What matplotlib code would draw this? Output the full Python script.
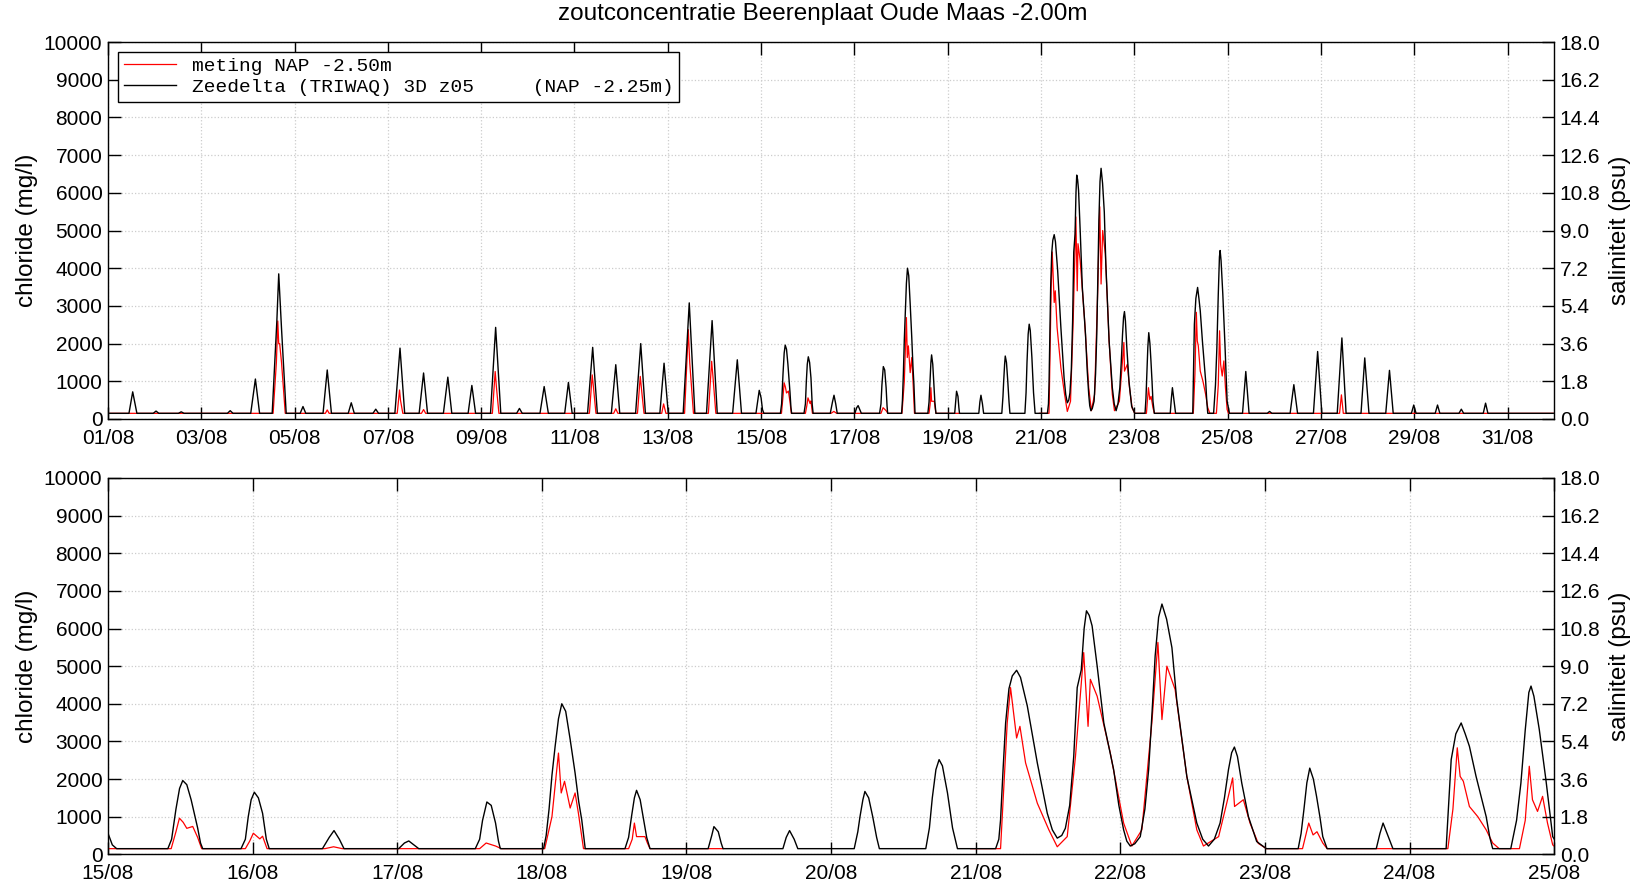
import matplotlib.pyplot as plt
import numpy as np
from matplotlib.ticker import FuncFormatter

plt.rcParams['font.family'] = ['Liberation Sans', 'DejaVu Sans']

# time in days of August (1.0 = 01/08 00:00), chloride in mg/l
# model (Zeedelta TRIWAQ) vertices
model_day = [
    1.0, 1.45, 1.53, 1.62, 1.97, 2.03, 2.09, 2.51, 2.57, 2.63, 3.56, 3.62, 3.68,
    4.06, 4.16, 4.25, 4.52, 4.62, 4.66, 4.72, 4.82, 5.12, 5.18, 5.24,
    5.61, 5.70, 5.79, 6.15, 6.215, 6.28, 6.68, 6.74, 6.80,
    7.15, 7.26, 7.36, 7.67, 7.765, 7.85, 8.19, 8.285, 8.37, 8.72, 8.80, 8.88,
    9.20, 9.31, 9.42, 9.76, 9.82, 9.88, 10.26, 10.35, 10.44, 10.79, 10.87, 10.95,
    11.28, 11.39, 11.49, 11.79, 11.885, 11.97, 12.31, 12.42, 12.52, 12.83, 12.92, 13.01,
    13.33, 13.46, 13.58, 13.83, 13.95, 14.06, 14.39, 14.49, 14.58,
    14.89, 14.96, 15.0, 15.03, 15.06,
    15.414, 15.44, 15.47, 15.495, 15.517, 15.545, 15.575, 15.62, 15.64, 15.655,
    15.92, 15.95, 15.97, 15.99, 16.012, 16.04, 16.069, 16.095, 16.115,
    16.483, 16.53, 16.563, 16.60, 16.632, 17.01, 17.05, 17.08, 17.115, 17.149,
    17.54, 17.57, 17.59, 17.62, 17.65, 17.68, 17.70, 17.713,
    18.012, 18.03, 18.05, 18.07, 18.092, 18.115, 18.138, 18.165, 18.196, 18.23,
    18.255, 18.276, 18.30,
    18.575, 18.60, 18.62, 18.64, 18.655, 18.68, 18.70, 18.725, 18.748,
    19.15, 19.175, 19.19, 19.22, 19.24, 19.253, 19.667, 19.69, 19.713, 19.745, 19.77,
    20.16, 20.185, 20.20, 20.22, 20.234, 20.26, 20.288, 20.315, 20.334,
    20.655, 20.68, 20.70, 20.725, 20.747, 20.77, 20.805, 20.84, 20.874,
    21.138, 21.16, 21.172, 21.19, 21.207, 21.23, 21.253, 21.283, 21.31, 21.357,
    21.426, 21.495, 21.53, 21.564, 21.595, 21.62, 21.65,
    21.678, 21.702, 21.73, 21.75, 21.766, 21.785, 21.805, 21.84, 21.886, 21.954,
    21.99, 22.023, 22.045, 22.069, 22.10,
    22.138, 22.17, 22.196, 22.22, 22.241, 22.265, 22.288, 22.32, 22.357, 22.39,
    22.46, 22.529, 22.57, 22.61, 22.65, 22.69,
    22.72, 22.748, 22.77, 22.789, 22.81, 22.84, 22.886, 22.943, 23.01,
    23.23, 23.25, 23.27, 23.29, 23.31, 23.335, 23.357, 23.38, 23.40, 23.43,
    23.77, 23.795, 23.817, 23.85, 23.885,
    24.253, 24.27, 24.288, 24.32, 24.357, 24.385, 24.414, 24.46, 24.53, 24.555, 24.575,
    24.70, 24.74, 24.77, 24.80, 24.825, 24.84, 24.86, 24.897, 24.943, 24.99, 25.04,
    25.32, 25.39, 25.46, 25.85, 25.90, 25.95, 26.34, 26.42, 26.50,
    26.84, 26.93, 27.02, 27.35, 27.45, 27.54, 27.86, 27.94, 28.03,
    28.39, 28.47, 28.55, 28.94, 28.99, 29.04, 29.45, 29.50, 29.55,
    29.96, 30.01, 30.06, 30.48, 30.53, 30.58, 32.0,
]
model_cl = [
    150, 150, 720, 150, 150, 210, 150, 150, 190, 150, 150, 220, 150,
    150, 1060, 150, 150, 2600, 3850, 2400, 150, 150, 330, 150,
    150, 1300, 150, 150, 430, 150, 150, 260, 150,
    150, 1880, 150, 150, 1220, 150, 150, 1110, 150, 150, 890, 150,
    150, 2430, 150, 150, 280, 150, 150, 860, 150, 150, 970, 150,
    150, 1900, 150, 150, 1440, 150, 150, 2000, 150, 150, 1480, 150,
    150, 3080, 150, 150, 2610, 150, 150, 1570, 150,
    150, 760, 560, 250, 150,
    150, 400, 1200, 1750, 1960, 1850, 1450, 700, 300, 150,
    150, 400, 1000, 1450, 1650, 1500, 1090, 400, 150,
    150, 450, 630, 400, 150, 150, 300, 355, 250, 150,
    150, 400, 900, 1390, 1300, 830, 350, 150,
    150, 500, 1200, 2100, 2870, 3600, 4000, 3800, 3050, 2160,
    1400, 915, 150,
    150, 450, 1000, 1500, 1700, 1450, 1000, 450, 150,
    150, 500, 736, 600, 300, 150, 150, 450, 630, 400, 150,
    150, 600, 1000, 1450, 1670, 1500, 1000, 450, 150,
    150, 700, 1500, 2250, 2515, 2350, 1630, 700, 150,
    150, 400, 915, 2300, 3490, 4400, 4740, 4890, 4700, 3940,
    2430, 1090, 650, 430, 500, 690, 1300,
    2600, 4430, 4900, 6000, 6470, 6350, 6070, 5000, 3490, 2250,
    1300, 650, 350, 220, 280,
    470, 1200, 2250, 3800, 5270, 6300, 6650, 6250, 5490, 4110,
    2070, 830, 400, 220, 400, 830,
    1500, 2250, 2700, 2850, 2600, 1890, 1000, 340, 150,
    150, 550, 1200, 1900, 2290, 2000, 1540, 1000, 470, 150,
    150, 550, 830, 500, 150,
    150, 1300, 2515, 3200, 3490, 3200, 2870, 2070, 1000, 450, 150,
    150, 900, 1890, 3300, 4300, 4470, 4200, 3320, 1980, 470, 150,
    150, 1260, 150, 150, 200, 150, 150, 910, 150,
    150, 1790, 150, 150, 2150, 150, 150, 1620, 150,
    150, 1290, 150, 150, 370, 150, 150, 370, 150,
    150, 260, 150, 150, 420, 150, 150,
]

# measurement (NAP -2.50m); nan marks the gap in the record
meas_day = [
    1.0, 4.54, 4.61, 4.64, 4.66, 4.68, 4.72, 4.80, 5.66, 5.70, 5.74,
    7.20, 7.25, 7.27, 7.32, 7.72, 7.765, 7.81, 9.24, 9.30, 9.33, 9.38,
    11.32, 11.38, 11.41, 11.46, 11.84, 11.885, 11.93,
    12.35, 12.41, 12.44, 12.49, 12.87, 12.91, 12.96,
    13.36, 13.44, 13.47, 13.55, 13.87, 13.94, 13.97, 14.03,
    15.437, 15.47, 15.494, 15.52, 15.545, 15.586, 15.62, 15.648,
    15.95, 15.98, 16.005, 16.05, 16.069, 16.10, 16.50, 16.56, 16.62,
    17.57, 17.615, 17.68, 17.72,
    18.02, 18.07, 18.115, 18.134, 18.157, 18.196, 18.23, 18.253, 18.288,
    18.60, 18.625, 18.64, 18.655, 18.713, 18.73, 18.748, 19.253, 20.0, 20.966,
    21.172, 21.218, 21.241, 21.283, 21.306, 21.345, 21.426, 21.506, 21.564, 21.633,
    21.69, 21.747, 21.777, 21.793, 21.84, 21.931, 22.023, 22.08, 22.149, 22.218,
    22.26, 22.288, 22.322, 22.379, 22.46, 22.529, 22.575, 22.68, 22.736, 22.777,
    22.79, 22.851, 22.897, 22.954, 23.01,
    23.26, 23.303, 23.333, 23.36, 23.40, 23.43,
    24.265, 24.30, 24.33, 24.35, 24.372, 24.414, 24.472, 24.53, 24.575, 24.62,
    24.76, 24.80, 24.828, 24.85, 24.885, 24.92, 24.954, 24.99, 25.02,
    27.40, 27.44, 27.48, 32.0,
]
meas_cl = [
    150, 150, 1500, 2600, 2000, 2000, 1500, 150, 150, 240, 150,
    150, 770, 500, 150, 150, 250, 150, 150, 1260, 800, 150,
    150, 1170, 800, 150, 150, 270, 150,
    150, 1130, 750, 150, 150, 400, 150,
    150, 2370, 1500, 150, 150, 1530, 1100, 150,
    150, 600, 960, 850, 690, 740, 450, 150,
    150, 350, 560, 410, 480, 150, 150, 200, 150,
    150, 300, 220, 150,
    150, 1000, 2690, 1630, 1940, 1230, 1630, 1090, 150,
    150, 400, 830, 470, 470, 300, 150, 150, np.nan, 150,
    150, 3490, 4430, 3090, 3400, 2430, 1360, 650, 200, 470,
    2600, 5360, 3400, 4650, 4200, 2690, 830, 220, 650, 3490,
    5630, 3580, 5000, 4380, 2070, 650, 220, 470, 1360, 2030,
    1270, 1450, 830, 290, 150,
    150, 830, 515, 600, 300, 150,
    150, 1200, 2830, 2070, 1940, 1270, 1000, 650, 300, 150,
    150, 900, 2340, 1450, 1140, 1540, 830, 250, 150,
    150, 640, 150, 150,
]

yticks_cl = np.arange(0, 10001, 1000)
yticks_psu = np.arange(0, 18.01, 1.8)

fig = plt.figure(figsize=(16.46, 8.83), dpi=100)
ax1 = fig.add_axes([0.0656, 0.5255, 0.8786, 0.4269])
ax2 = fig.add_axes([0.0656, 0.0325, 0.8786, 0.4262])

day_fmt = FuncFormatter(lambda v, p: '%02d/08' % int(round(v)))


def draw_panel(ax, x0, x1, step):
    ax.plot(meas_day, meas_cl, color='red', lw=0.9, label='meting NAP -2.50m')
    ax.plot(model_day, model_cl, color='black', lw=1.0,
            label='Zeedelta (TRIWAQ) 3D z05     (NAP -2.25m)')
    ax.set_ylim(0, 10000)
    ax.set_yticks(yticks_cl)
    ax.set_xticks(np.arange(x0, x1 + 0.01, step))
    ax.set_xlim(x0, x1)
    ax.xaxis.set_major_formatter(day_fmt)
    ax.grid(True, color='#cccccc', linestyle=':', linewidth=0.9)
    ax.tick_params(direction='in', length=9, width=1, labelsize=15,
                   top=True, right=False)
    ax.tick_params(axis='x', pad=7)
    ax.tick_params(axis='y', pad=4)
    ax.set_ylabel('chloride (mg/l)', fontsize=17.5, labelpad=4)
    for s in ax.spines.values():
        s.set_linewidth(1.0)
        s.set_color('#333333')

    axr = ax.twinx()
    axr.set_ylim(0, 18)
    axr.set_yticks(yticks_psu)
    axr.yaxis.set_major_formatter(FuncFormatter(lambda v, p: '%.1f' % v))
    axr.tick_params(direction='in', length=9, width=1, labelsize=15, pad=4)
    axr.set_ylabel('saliniteit (psu)', fontsize=17.5, labelpad=6)


draw_panel(ax1, 1, 32, 2)
draw_panel(ax2, 15, 25, 1)

ax1.legend(loc='upper left', prop={'family': 'Liberation Mono', 'size': 14},
           fancybox=False, edgecolor='black', framealpha=1, handlelength=2.7,
           borderaxespad=0.5, labelspacing=0.15, borderpad=0.3)

fig.suptitle('zoutconcentratie Beerenplaat Oude Maas -2.00m', fontsize=17.5, y=0.997)

fig.savefig('out.png', dpi=100)
